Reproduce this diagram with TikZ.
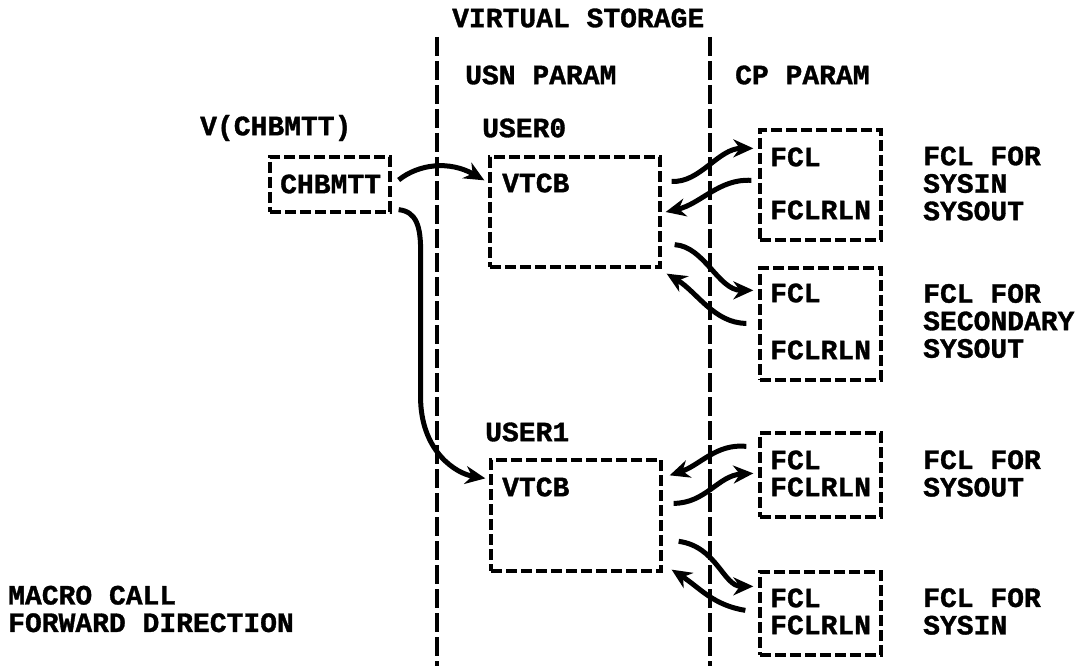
\documentclass[tikz,border=0pt]{standalone}
\usepackage{fontspec}
\newfontfamily\tw{Liberation Mono}[BoldFeatures={FakeBold=1.2}]
\usetikzlibrary{arrows.meta,calc}
\begin{document}
\begin{tikzpicture}[x=1pt,y=-1pt,
  txt/.style={font=\tw\bfseries\fontsize{28}{27.5}\selectfont, inner sep=0pt, anchor=west, align=left},
  box/.style={draw, line width=3.3pt, dash pattern=on 11pt off 4pt, inner sep=0pt},
  vline/.style={line width=3.5pt, dash pattern=on 19pt off 5pt},
  arr/.style={line width=5pt, -{Stealth[length=20pt,width=18pt]}},
]
\useasboundingbox (0,0) rectangle (1080,666);

% vertical separators
\coordinate (v1t) at (437,37);
\coordinate (v1b) at (437,666);
\coordinate (v2t) at (710,37);
\coordinate (v2b) at (710,666);
\draw[vline] (v1t) -- (v1b);
\draw[vline] (v2t) -- (v2b);

% headings
\node[txt] (vs) at (452,18) {VIRTUAL STORAGE};
\node[txt] (usn) at (465,75) {USN PARAM};
\node[txt] (cp) at (735,75) {CP PARAM};
\node[txt] (vch) at (200,128) {V(CHBMTT)};
\node[txt] (user0) at (482,128) {USER0};
\node[txt] (user1) at (485,432) {USER1};

% boxes
\node[box, minimum width=120pt, minimum height=55pt] (chb) at (330,184.5) {};
\node[box, minimum width=170pt, minimum height=110pt] (u0) at (575,212) {};
\node[box, minimum width=170pt, minimum height=111pt] (u1) at (576,515.5) {};
\node[box, minimum width=121pt, minimum height=110pt] (f1) at (820.5,185) {};
\node[box, minimum width=121pt, minimum height=112pt] (f2) at (820.5,324) {};
\node[box, minimum width=121pt, minimum height=84pt] (f3) at (820.5,475) {};
\node[box, minimum width=121pt, minimum height=83pt] (f4) at (820.5,613.5) {};

% box texts
\node[txt] (chbt) at (280,184) {CHBMTT};
\node[txt] (u0t) at (502,183) {VTCB};
\node[txt] (u1t) at (502,487) {VTCB};
\node[txt] (f1a) at (770,157) {FCL};
\node[txt] (f1b) at (770,210) {FCLRLN};
\node[txt] (f2a) at (770,293) {FCL};
\node[txt] (f2b) at (770,350) {FCLRLN};
\node[txt] (f3a) at (770,460) {FCL};
\node[txt] (f3b) at (770,487) {FCLRLN};
\node[txt] (f4a) at (770,598) {FCL};
\node[txt] (f4b) at (770,625) {FCLRLN};

% right labels
\node[txt] (l1) at (923,183.5) {FCL FOR\\SYSIN\\SYSOUT};
\node[txt] (l2) at (923,321) {FCL FOR\\SECONDARY\\SYSOUT};
\node[txt] (l3) at (923,473.5) {FCL FOR\\SYSOUT};
\node[txt] (l4) at (923,611.5) {FCL FOR\\SYSIN};
\node[txt] (mc) at (8,609) {MACRO CALL\\FORWARD DIRECTION};

% connectors
\draw[arr] ($(chb.east)+(7,-4.5)$) .. controls +(20,-16) and +(-35,-20) .. ($(u0.north west)+(-4,25)$);
\draw[arr] ($(chb.south east)+(7,-4)$) .. controls +(18,2) and +(0,-25) .. ++(22,42)
  -- ++(0,150) .. controls +(2,50) and +(-30,-5) .. ($(u1.north west)+(-4,20)$);

\draw[arr] ($(u0.north east)+(10,26)$) .. controls +(28,2) and +(-35,0) .. ($(f1.north west)+(-5,20)$);
\draw[arr] ($(f1.north west)+(-7,52)$) .. controls +(-32,-2) and +(35,-8) .. ($(u0.east)+(4,0)$);
\draw[arr] ($(u0.south east)+(13,-24)$) .. controls +(30,2) and +(-35,0) .. ($(f2.north west)+(-5,24)$);
\draw[arr] ($(f2.north west)+(-12,57)$) .. controls +(-32,0) and +(30,18) .. ($(u0.south east)+(5,5)$);

\draw[arr] ($(f3.north west)+(-12,15)$) .. controls +(-30,-3) and +(30,-10) .. ($(u1.north east)+(7,17)$);
\draw[arr] ($(u1.north east)+(11,45)$) .. controls +(32,0) and +(-35,2) .. ($(f3.north west)+(-5,42)$);
\draw[arr] ($(u1.north east)+(16,83)$) .. controls +(38,5) and +(-30,0) .. ($(f4.north west)+(-5,16)$);
\draw[arr] ($(f4.north west)+(-13,40)$) .. controls +(-32,-5) and +(28,18) .. ($(u1.south east)+(9,-3)$);
\end{tikzpicture}
\end{document}
